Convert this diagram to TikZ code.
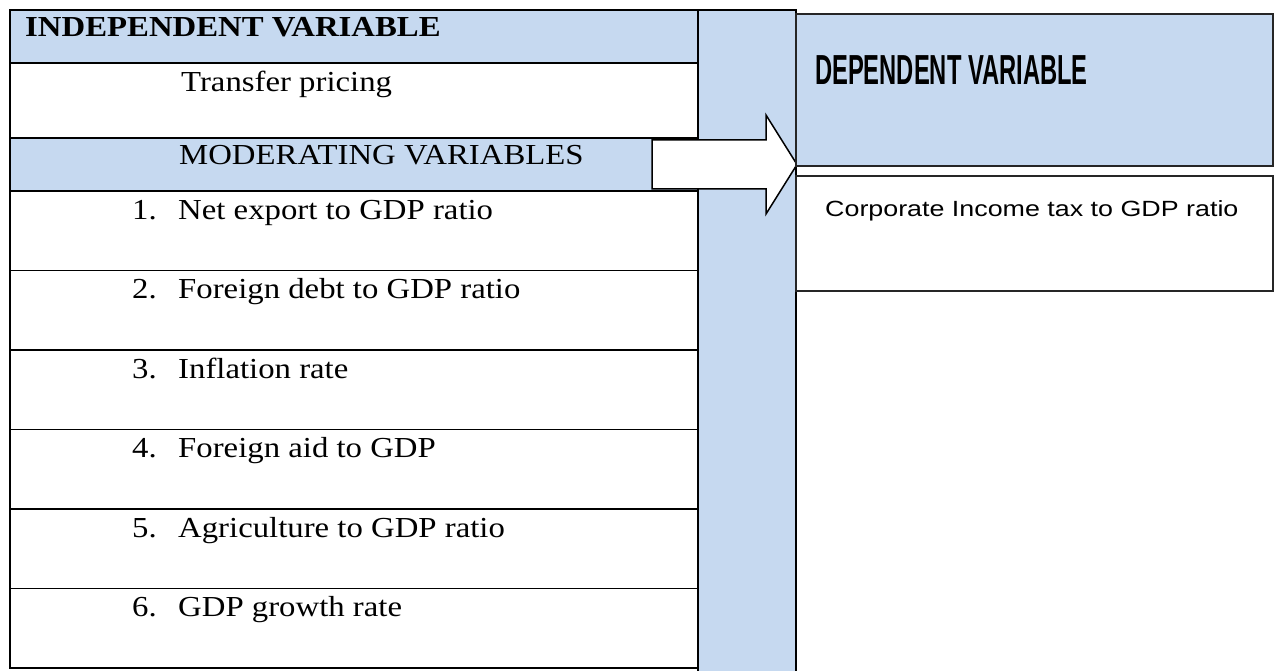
\documentclass[tikz,border=0pt]{standalone}
\usepackage{fontspec}
\usepackage{graphicx}
\usepackage{tikz}

\setmainfont{Liberation Serif}
\newfontfamily\depfont{Liberation Sans}
\definecolor{cellblue}{RGB}{198,217,240}
\newcommand{\xwide}[1]{\scalebox{1.13}[1]{#1}}

\begin{document}
\begin{tikzpicture}[x=1pt, y=-1pt,
	cell/.style={draw=black, line width=1.2pt, anchor=north west, inner sep=0pt, outer sep=0pt, minimum width=688pt},
	rbox/.style={draw=black!85, line width=2pt, anchor=north west, inner sep=0pt, outer sep=0pt, minimum width=477pt},
	lbl/.style={anchor=base west, inner sep=0pt, font=\fontsize{29}{33}\selectfont},
	arrowbox/.style={draw=black, line width=1.5pt, fill=white, line join=miter}]

	\useasboundingbox (0,0) rectangle (1274,671);

	% left table
	\node[cell, fill=cellblue, minimum height=53pt] (ind) at (10,10) {};
	\node[cell, minimum height=75pt] (tp) at (10,63) {};
	\node[cell, fill=cellblue, minimum height=53pt] (mod) at (10,138) {};
	\foreach \i in {1,...,6}
		\node[cell, minimum height=79.5pt] (r\i) at (10,{191+79.5*(\i-1)}) {};
	\draw[line width=2pt] (ind.north west) -- (r6.south west);

	% blue column
	\node[cell, fill=cellblue, minimum width=98pt, minimum height=670pt] (col) at (698,10) {};

	% arrow
	\coordinate (tail) at (652,164.5);
	\coordinate (tip) at (797,164.5);
	\draw[arrowbox] (tail) ++(0,-24.5) -- ++(114,0) -- ++(0,-25) -- (tip)
		-- ++(-31,49.5) -- ++(0,-25) -- ++(-114,0) -- cycle;

	% right boxes
	\node[rbox, fill=cellblue, minimum height=152pt] (dep) at (796,14) {};
	\node[rbox, fill=white, minimum height=115pt] (corp) at (796,176) {};

	% texts
	\node[lbl] (indtxt) at (25,37) {\xwide{\textbf{INDEPENDENT VARIABLE}}};
	\node[lbl] (tptxt) at (181,92) {\xwide{Transfer pricing}};
	\node[lbl] (modtxt) at (179,165) {\xwide{MODERATING VARIABLES}};
	\foreach \i/\txt in {1/Net export to GDP ratio, 2/Foreign debt to GDP ratio,
		3/Inflation rate, 4/Foreign aid to GDP, 5/Agriculture to GDP ratio, 6/GDP growth rate} {
		\node[lbl] (n\i) at (132,{219+79.5*(\i-1)}) {\xwide{\i.}};
		\node[lbl] (t\i) at (178,{219+79.5*(\i-1)}) {\xwide{\txt}};
	}
	\node[anchor=base west, inner sep=0pt] (deptxt) at (815,85)
		{\depfont\bfseries\fontsize{42}{46}\selectfont\scalebox{0.565}[1]{DEPENDENT VARIABLE}};
	\node[anchor=base west, inner sep=0pt] (corptxt) at (825,217)
		{\depfont\fontsize{22}{26}\selectfont\scalebox{1.22}[1]{Corporate Income tax to GDP ratio}};

\end{tikzpicture}
\end{document}
